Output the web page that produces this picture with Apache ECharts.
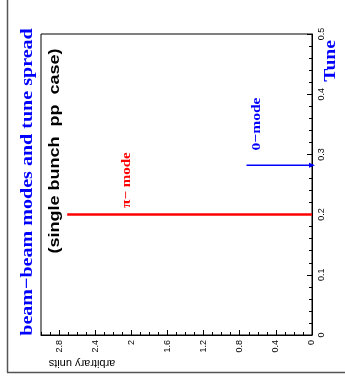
<!DOCTYPE html>
<html>
<head>
<meta charset="utf-8">
<script src="https://cdn.jsdelivr.net/npm/echarts@6/dist/echarts.min.js"></script>
<style>
html,body{margin:0;padding:0;background:#fff;}
#chart{width:345px;height:382px;}
</style>
</head>
<body>
<div id="chart"></div>
<script>
// ---- data ----
const modeNames = ['π− mode', '0−mode'];
const modeTunes = [0.2, 0.282];
const modeAmplitudes = [2.71, 0.725];
const modeColors = ['#ff0000', '#0000ff'];
const ampMin = 0, ampMax = 3.0, ampMajor = 0.4, ampMinor = 0.1;
const tuneMin = 0, tuneMax = 0.5, tuneMajor = 0.1;
const titleText = 'beam−beam modes and tune spread';
const subtitleText = '(single bunch  pp  case)';
const tuneAxisName = 'Tune';
const ampAxisName = 'arbitrary units';

const chart = echarts.init(document.getElementById('chart'), null, {renderer: 'canvas'});
const sans = 'Liberation Sans, Arial, sans-serif';
const serif = 'Liberation Serif, Times New Roman, serif';

const option = {
  animation: false,
  backgroundColor: '#fff',
  grid: {left: 41, right: 33, top: 34, bottom: 47, show: true, borderColor: '#000', borderWidth: 1, backgroundColor: 'transparent'},
  xAxis: [
    {
      type: 'value', inverse: true, min: ampMin, max: ampMax, interval: ampMajor, position: 'bottom',
      axisLine: {show: true, lineStyle: {color: '#000', width: 1}},
      axisTick: {show: true, inside: true, length: 5, lineStyle: {color: '#000'}},
      axisLabel: {show: true, rotate: 90, fontSize: 9, fontFamily: sans, color: '#000', margin: 5, showMaxLabel: false,
        formatter: v => (Math.abs(v) < 1e-9 ? '0' : String(+v.toFixed(1)))},
      splitLine: {show: false}
    },
    {
      type: 'value', inverse: true, min: ampMin, max: ampMax, interval: ampMinor, position: 'bottom',
      axisLine: {show: false},
      axisTick: {show: true, inside: true, length: 3, lineStyle: {color: '#000'}},
      axisLabel: {show: false},
      splitLine: {show: false}
    }
  ],
  yAxis: [
    {
      type: 'value', min: tuneMin, max: tuneMax, interval: tuneMajor, position: 'right',
      axisLine: {show: true, lineStyle: {color: '#000', width: 1}},
      axisTick: {show: true, inside: true, length: 5, lineStyle: {color: '#000'}},
      minorTick: {show: true, splitNumber: 5, length: 3, lineStyle: {color: '#000'}},
      axisLabel: {show: true, rotate: 90, fontSize: 9, fontFamily: sans, color: '#000', margin: 5,
        formatter: v => (Math.abs(v) < 1e-9 ? '0' : v.toFixed(1))},
      splitLine: {show: false}
    }
  ],
  series: [
    {
      type: 'line', xAxisIndex: 0, yAxisIndex: 0, symbol: 'none', silent: true,
      lineStyle: {color: modeColors[0], width: 2.5},
      data: [[0, modeTunes[0]], [modeAmplitudes[0], modeTunes[0]]]
    },
    {
      type: 'line', xAxisIndex: 0, yAxisIndex: 0, symbol: 'none', silent: true,
      lineStyle: {color: modeColors[1], width: 1.5},
      itemStyle: {color: modeColors[1]},
      data: [{value: [0, modeTunes[1]], symbol: 'triangle', symbolSize: [5, 6], symbolRotate: -90},
             [modeAmplitudes[1], modeTunes[1]]]
    }
  ],
  graphic: [
    // outer frame lines
    {type: 'line', shape: {x1: 7.5, y1: 0, x2: 7.5, y2: 372.5}, style: {stroke: '#555', lineWidth: 1.5}, silent: true},
    {type: 'line', shape: {x1: 7, y1: 372.5, x2: 345, y2: 372.5}, style: {stroke: '#555', lineWidth: 1.5}, silent: true},
    // title
    {type: 'text', x: 28, y: 182, rotation: Math.PI / 2, scaleX: 1.18,
      style: {text: titleText, font: 'bold 17px ' + serif, fill: '#0000ff', align: 'center', verticalAlign: 'middle'}},
    {type: 'text', x: 55, y: 151, rotation: Math.PI / 2, scaleX: 1.2,
      style: {text: subtitleText, font: 'bold 15px ' + sans, fill: '#000', align: 'center', verticalAlign: 'middle'}},
    {type: 'text', x: 127, y: 180, rotation: Math.PI / 2, scaleX: 1.2,
      style: {text: modeNames[0], font: 'bold 12.5px ' + serif, fill: modeColors[0], align: 'center', verticalAlign: 'middle'}},
    {type: 'text', x: 257, y: 124, rotation: Math.PI / 2, scaleX: 1.2,
      style: {text: modeNames[1], font: 'bold 13px ' + serif, fill: modeColors[1], align: 'center', verticalAlign: 'middle'}},
    {type: 'text', x: 331, y: 61, rotation: Math.PI / 2, scaleX: 1.15,
      style: {text: tuneAxisName, font: 'bold 17px ' + serif, fill: '#0000ff', align: 'center', verticalAlign: 'middle'}},
    {type: 'text', x: 82, y: 363, rotation: Math.PI,
      style: {text: ampAxisName, font: '11px ' + sans, fill: '#000', align: 'center', verticalAlign: 'middle'}}
  ]
};
chart.setOption(option);
</script>
</body>
</html>
